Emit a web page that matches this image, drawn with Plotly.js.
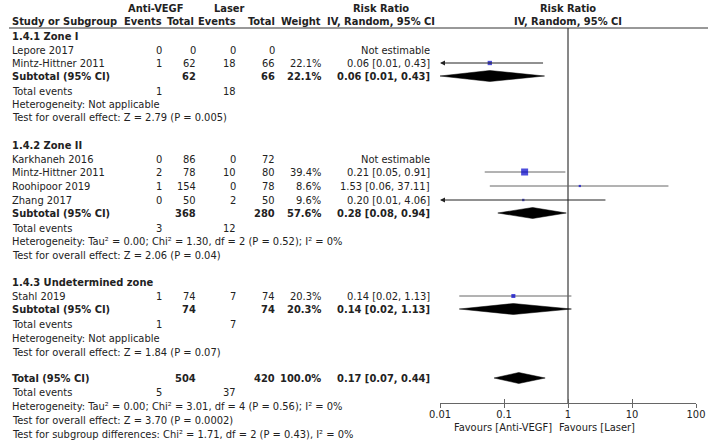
<!DOCTYPE html>
<html>
<head>
<meta charset="utf-8">
<script src="https://cdn.plot.ly/plotly-3.0.1.min.js"></script>
<style>html,body{margin:0;padding:0;background:#fff}#chart{width:708px;height:442px}</style>
</head>
<body>
<div id="chart"></div>
<script>
// ---------- data ----------
const groupNames = ["1.4.1 Zone I", "1.4.2 Zone II", "1.4.3 Undetermined zone"];
const studyNames = ["Lepore 2017", "Mintz-Hittner 2011", "Karkhaneh 2016", "Mintz-Hittner 2011", "Roohipoor 2019", "Zhang 2017", "Stahl 2019"];
const studyGroup = [0, 0, 1, 1, 1, 1, 2];
const antiEvents = [0, 1, 0, 2, 1, 0, 1];
const antiTotal = [0, 62, 86, 78, 154, 50, 74];
const laserEvents = [0, 18, 0, 10, 0, 2, 7];
const laserTotal = [0, 66, 72, 80, 78, 50, 74];
const weight = [null, 22.1, null, 39.4, 8.6, 9.6, 20.3];
const rr = [null, 0.06, null, 0.21, 1.53, 0.20, 0.14];
const rrLo = [null, 0.01, null, 0.05, 0.06, 0.01, 0.02];
const rrHi = [null, 0.43, null, 0.91, 37.11, 4.06, 1.13];

const subAntiEvents = [1, 3, 1];
const subLaserEvents = [18, 12, 7];
const subAntiTotal = [62, 368, 74];
const subLaserTotal = [66, 280, 74];
const subWeight = [22.1, 57.6, 20.3];
const subRR = [0.06, 0.28, 0.14];
const subLo = [0.01, 0.08, 0.02];
const subHi = [0.43, 0.94, 1.13];
const subHet = ["Heterogeneity: Not applicable",
  "Heterogeneity: Tau² = 0.00; Chi² = 1.30, df = 2 (P = 0.52); I² = 0%",
  "Heterogeneity: Not applicable"];
const subTest = ["Test for overall effect: Z = 2.79 (P = 0.005)",
  "Test for overall effect: Z = 2.06 (P = 0.04)",
  "Test for overall effect: Z = 1.84 (P = 0.07)"];

const totAntiEvents = 5, totLaserEvents = 37;
const totAntiTotal = 504, totLaserTotal = 420, totWeight = 100.0;
const totRR = 0.17, totLo = 0.07, totHi = 0.44;
const totHet = "Heterogeneity: Tau² = 0.00; Chi² = 3.01, df = 4 (P = 0.56); I² = 0%";
const totTest = "Test for overall effect: Z = 3.70 (P = 0.0002)";
const subgroupTest = "Test for subgroup differences: Chi² = 1.71, df = 2 (P = 0.43), I² = 0%";

const tickVals = [0.01, 0.1, 1, 10, 100];
const tickLabels = ["0.01", "0.1", "1", "10", "100"];

// ---------- layout (pixel rows) ----------
const W = 708, H = 442;
const groupRows = [
  {head: 36, studies: [50, 63], sub: 76, te: 91, het: 104, test: 117},
  {head: 145, studies: [159, 172, 186, 200], sub: 213, te: 228, het: 241, test: 255},
  {head: 282, studies: [296], sub: 309, te: 324, het: 338, test: 352}
];
const totRows = {row: 378, te: 392, het: 406, test: 420, sg: 434};
const col = {name: 11, aEv: 163, aTot: 197, lEv: 237, lTot: 276, wt: 322, rr: 431};
const FONT = "DejaVu Sans Condensed, DejaVu Sans, sans-serif";
const TXT = "#222";
const FS = 11;

const ann = [];
function txt(x, y, s, anchor, bold) {
  ann.push({xref: "paper", yref: "y", x: x / W, y: y, text: bold ? "<b>" + s + "</b>" : s,
    xanchor: anchor, yanchor: "middle", showarrow: false, borderpad: 0,
    font: {family: FONT, size: FS, color: TXT}});
}
function fmt2(v) { return v.toFixed(2); }
function ciText(r, l, h) { return fmt2(r) + " [" + fmt2(l) + ", " + fmt2(h) + "]"; }

// headers
txt(155, 8, "Anti-VEGF", "center", true);
txt(229, 8, "Laser", "center", true);
txt(381, 8, "Risk Ratio", "center", true);
txt(568, 8, "Risk Ratio", "center", true);
txt(col.name, 21, "Study or Subgroup", "left", true);
txt(col.aEv, 21, "Events", "right", true);
txt(col.aTot - 2, 21, "Total", "right", true);
txt(col.lEv, 21, "Events", "right", true);
txt(col.lTot, 21, "Total", "right", true);
txt(col.wt, 21, "Weight", "right", true);
txt(381, 21, "IV, Random, 95% CI", "center", true);
txt(568, 21, "IV, Random, 95% CI", "center", true);

// forest mark containers
const sqX = [], sqY = [], sqS = [];
const lnX = [], lnY = [];
const dmX = [], dmY = [];
const arrows = [];
const xmin = tickVals[0];

const studyIdx = [0, 0, 0];
studyNames.forEach((n, i) => {
  const g = studyGroup[i];
  const y = groupRows[g].studies[studyIdx[g]++];
  txt(col.name, y, n, "left", false);
  txt(col.aEv, y, String(antiEvents[i]), "right", false);
  txt(col.aTot, y, String(antiTotal[i]), "right", false);
  txt(col.lEv, y, String(laserEvents[i]), "right", false);
  txt(col.lTot, y, String(laserTotal[i]), "right", false);
  if (weight[i] === null) {
    txt(col.rr, y, "Not estimable", "right", false);
  } else {
    txt(col.wt, y, weight[i].toFixed(1) + "%", "right", false);
    txt(col.rr, y, ciText(rr[i], rrLo[i], rrHi[i]), "right", false);
    sqX.push(rr[i]); sqY.push(y); sqS.push(0.9 + 0.155 * weight[i]);
    if (rrLo[i] <= xmin) {
      arrows.push({lo: xmin, hi: rrHi[i], y: y});
    } else {
      lnX.push(rrLo[i], rrHi[i], null); lnY.push(y, y, null);
    }
  }
});

const DH = 5.5;
function diamond(r, l, h, y) {
  dmX.push(Math.max(l, xmin), r, h, r, Math.max(l, xmin), null);
  dmY.push(y, y - DH, y, y + DH, y, null);
}

groupNames.forEach((g, k) => {
  const R = groupRows[k];
  txt(col.name, R.head, g, "left", true);
  txt(col.name, R.sub, "Subtotal (95% CI)", "left", true);
  txt(col.aTot, R.sub, String(subAntiTotal[k]), "right", true);
  txt(col.lTot, R.sub, String(subLaserTotal[k]), "right", true);
  txt(col.wt, R.sub, subWeight[k].toFixed(1) + "%", "right", true);
  txt(col.rr, R.sub, ciText(subRR[k], subLo[k], subHi[k]), "right", true);
  txt(col.name, R.te, "Total events", "left", false);
  txt(col.aEv, R.te, String(subAntiEvents[k]), "right", false);
  txt(col.lEv, R.te, String(subLaserEvents[k]), "right", false);
  txt(col.name, R.het, subHet[k], "left", false);
  txt(col.name, R.test, subTest[k], "left", false);
  diamond(subRR[k], subLo[k], subHi[k], R.sub);
});

txt(col.name, totRows.row, "Total (95% CI)", "left", true);
txt(col.aTot, totRows.row, String(totAntiTotal), "right", true);
txt(col.lTot, totRows.row, String(totLaserTotal), "right", true);
txt(col.wt, totRows.row, totWeight.toFixed(1) + "%", "right", true);
txt(col.rr, totRows.row, ciText(totRR, totLo, totHi), "right", true);
txt(col.name, totRows.te, "Total events", "left", false);
txt(col.aEv, totRows.te, String(totAntiEvents), "right", false);
txt(col.lEv, totRows.te, String(totLaserEvents), "right", false);
txt(col.name, totRows.het, totHet, "left", false);
txt(col.name, totRows.test, totTest, "left", false);
txt(col.name, totRows.sg, subgroupTest, "left", false);
diamond(totRR, totLo, totHi, totRows.row);

txt(553, 427, "Favours [Anti-VEGF]", "right", false);
txt(558, 427, "Favours [Laser]", "left", false);

arrows.forEach(a => {
  ann.push({xref: "x", yref: "y", x: Math.log10(a.lo), y: a.y, axref: "x", ayref: "y",
    ax: Math.log10(a.hi), ay: a.y, showarrow: true, arrowhead: 2, arrowsize: 1,
    arrowwidth: 1, arrowcolor: "#222", standoff: 0, text: ""});
});

const axisY = 403, topY = 28;
const traces = [
  {type: "scatter", mode: "lines", x: [1, 1], y: [topY, axisY], xaxis: "x", yaxis: "y",
    line: {color: "#111", width: 1}, hoverinfo: "skip"},
  {type: "scatter", mode: "lines", x: lnX, y: lnY, xaxis: "x", yaxis: "y",
    line: {color: "#666", width: 1}, connectgaps: false, hoverinfo: "skip"},
  {type: "scatter", mode: "markers", x: sqX, y: sqY, xaxis: "x", yaxis: "y",
    marker: {symbol: "square", size: sqS, color: "#0000cc", line: {width: 0}}, hoverinfo: "skip"},
  {type: "scatter", mode: "lines", x: dmX, y: dmY, xaxis: "x", yaxis: "y", fill: "toself",
    fillcolor: "#000", line: {color: "#000", width: 0.5}, hoverinfo: "skip"},
  {type: "scatter", mode: "markers", x: [1], y: [axisY], xaxis: "x3", yaxis: "y",
    marker: {opacity: 0}, hoverinfo: "skip"}
];

const axPos = (H - axisY) / H;
const layout = {
  width: W, height: H, margin: {l: 0, r: 0, t: 0, b: 0},
  paper_bgcolor: "#fff", plot_bgcolor: "rgba(0,0,0,0)", showlegend: false, hovermode: false,
  xaxis: {type: "log", range: [-2, 2], domain: [440 / W, 696 / W], anchor: "free", position: axPos,
    showgrid: false, zeroline: false, showline: true, linecolor: "#666", linewidth: 1,
    ticks: "outside", ticklen: 4, tickcolor: "#666", tickwidth: 1,
    tickmode: "array", tickvals: tickVals, ticktext: tickLabels, ticklabelstandoff: -3,
    tickfont: {family: FONT, size: FS, color: TXT}},
  xaxis3: {type: "log", range: [-2, 2], domain: [440 / W, 696 / W], anchor: "free", position: axPos,
    overlaying: "x", showgrid: false, zeroline: false, showline: false,
    ticks: "inside", ticklen: 4, tickcolor: "#666", tickwidth: 1,
    tickmode: "array", tickvals: tickVals, showticklabels: false},
  yaxis: {range: [H, 0], domain: [0, 1], visible: false, fixedrange: true},
  annotations: ann,
  shapes: [{type: "line", xref: "paper", yref: "y", x0: 9 / W, x1: 1, y0: topY, y1: topY,
    line: {color: "#333", width: 1}}]
};

Plotly.newPlot("chart", traces, layout, {staticPlot: true, displayModeBar: false});
</script>
</body>
</html>
